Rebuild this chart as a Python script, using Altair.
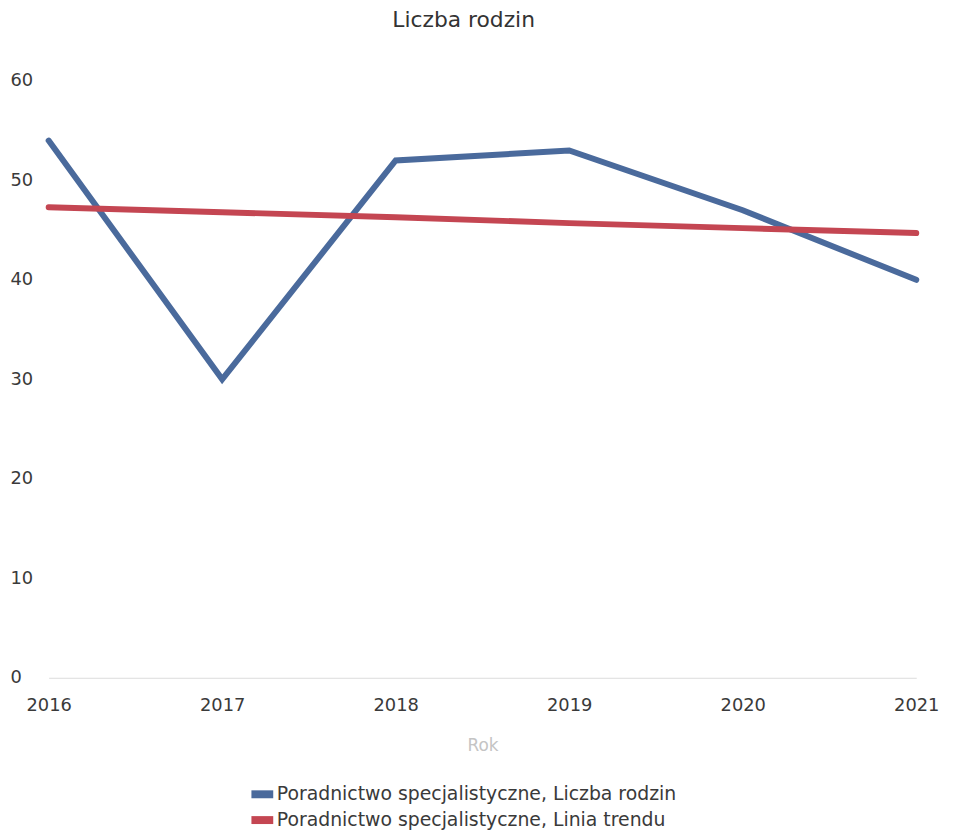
import altair as alt
import pandas as pd

years = [2016, 2017, 2018, 2019, 2020, 2021]
families = [54, 30, 52, 53, 47, 40]
trend = [47.3, 46.8, 46.3, 45.7, 45.2, 44.7]
series_names = ["Poradnictwo specjalistyczne, Liczba rodzin",
                "Poradnictwo specjalistyczne, Linia trendu"]
colors = ["#4a6a9c", "#c44652"]

rows = []
for y, v in zip(years, families):
    rows.append({"Rok": y, "value": v, "series": series_names[0]})
for y, v in zip(years, trend):
    rows.append({"Rok": y, "value": v, "series": series_names[1]})
df = pd.DataFrame(rows)

FONT = "DejaVu Sans"

chart = alt.Chart(df).mark_line(strokeWidth=6, strokeCap="round").encode(
    x=alt.X("Rok:Q",
            scale=alt.Scale(domain=[2016, 2021], nice=False, zero=False),
            axis=alt.Axis(values=years, format="d", grid=False, ticks=False,
                          domain=True, domainColor="#dcdcdc", domainWidth=1,
                          labelFontSize=18, labelColor="#3a3a3a", labelFont=FONT,
                          labelPadding=19, labelFlush=False,
                          title="Rok", titleColor="#c4c4c4", titleFontSize=17,
                          titleFontWeight="normal", titleFont=FONT, titlePadding=23)),
    y=alt.Y("value:Q",
            scale=alt.Scale(domain=[0, 60], nice=False),
            axis=alt.Axis(values=[0, 10, 20, 30, 40, 50, 60], grid=False, ticks=False,
                          domain=False, labelFontSize=18, labelColor="#3a3a3a",
                          labelFont=FONT, labelAlign="left", labelPadding=39,
                          title=None)),
    color=alt.Color("series:N",
                    scale=alt.Scale(domain=series_names, range=colors),
                    sort=series_names,
                    legend=alt.Legend(title=None, orient="none",
                                      legendX=206, legendY=710,
                                      symbolType="M-2.75,0H2.75", symbolSize=64,
                                      symbolStrokeWidth=8,
                                      labelFontSize=19, labelColor="#3a3a3a",
                                      labelFont=FONT, labelLimit=600,
                                      rowPadding=-11, labelOffset=5)),
).properties(
    width=875,
    height=602,
    title=alt.TitleParams("Liczba rodzin", fontSize=22, font=FONT, color="#333",
                          fontWeight="normal", anchor="middle", dx=-19,
                          offset=18, baseline="bottom"),
    autosize=alt.AutoSizeParams(type="none"),
    padding={"left": 41, "top": 70, "right": 30, "bottom": 150},
    background="white",
).configure_view(stroke=None)

chart.save("out.html", embed_options={"renderer": "svg", "actions": False})
